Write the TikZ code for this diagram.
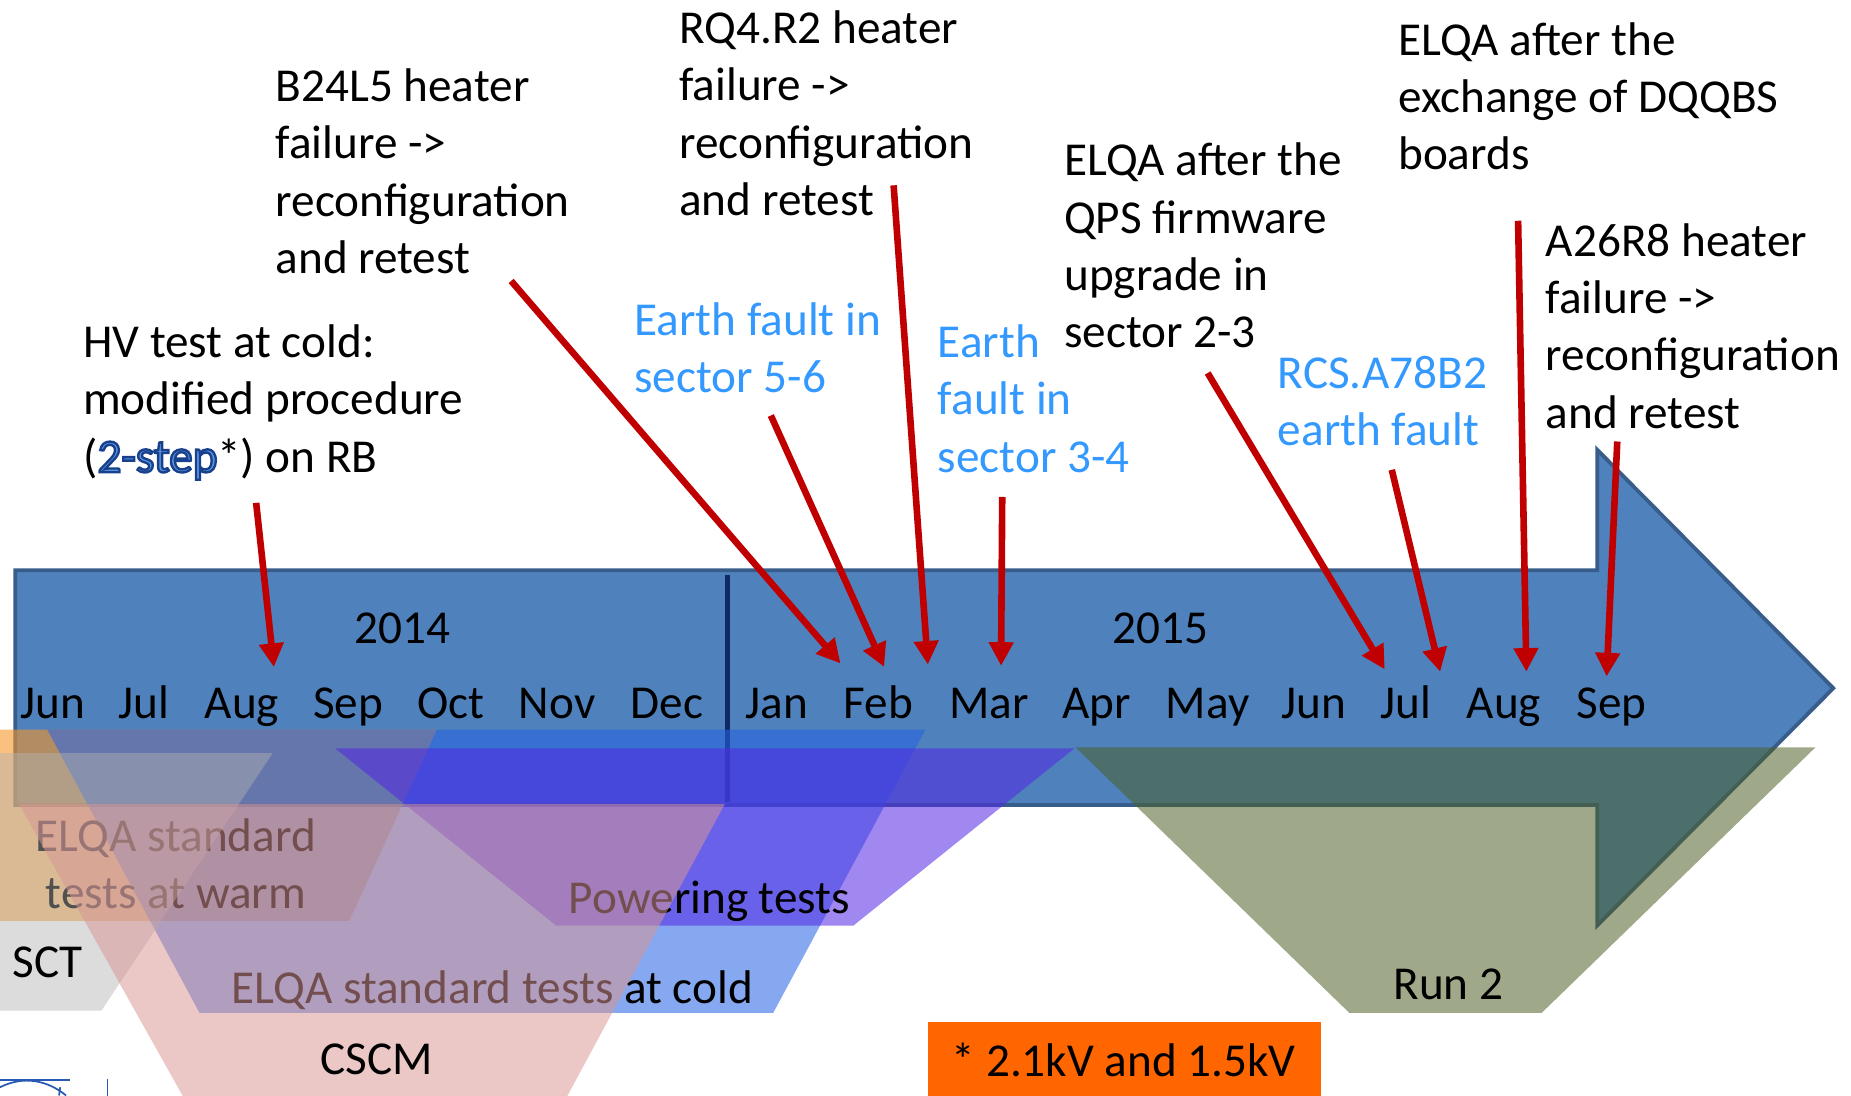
\documentclass[tikz,border=0pt]{standalone}
\usepackage{fontspec}
\setmainfont{Carlito}
\usetikzlibrary{arrows.meta}

\definecolor{arrblue}{RGB}{79,129,189}
\definecolor{arredge}{RGB}{56,93,138}
\definecolor{yearline}{RGB}{16,40,100}
\definecolor{warmorange}{RGB}{245,150,40}
\definecolor{coldblue}{RGB}{39,100,228}
\definecolor{powviolet}{RGB}{82,39,228}
\definecolor{sctgrey}{RGB}{178,178,178}
\definecolor{cscmpink}{RGB}{217,150,148}
\definecolor{runolive}{RGB}{77,96,38}
\definecolor{notebox}{RGB}{255,102,0}
\definecolor{faultred}{RGB}{192,0,0}
\definecolor{faultblue}{RGB}{51,153,255}
\definecolor{stepfill}{RGB}{90,150,222}
\definecolor{logoblue}{RGB}{40,90,180}

% outlined blue word, as in the slide
\newcommand{\outlined}[1]{\textcolor{stepfill}{\special{pdf:literal direct 0.1 0.25 0.55 RG 2 Tr 1.5 w}#1\special{pdf:literal direct 0 Tr}}}

\tikzset{every picture/.style={line width=0.75pt}}
\tikzset{
  big/.style={font=\fontsize{30}{36.4}\selectfont},
  txt/.style={big, inner sep=0pt, anchor=base west, align=left},
  ctxt/.style={big, inner sep=0pt, anchor=base, align=center},
  month/.style={big, inner sep=0pt, anchor=base},
  redarr/.style={draw=faultred, line width=4.2pt, -{Triangle[length=15pt,width=15pt]}},
}

\begin{document}
\begin{tikzpicture}[x=0.75pt,y=0.75pt,yscale=-1,xscale=1]
\useasboundingbox (0,0) rectangle (1568,928);
\clip (0,0) rectangle (1568,928);

%Shape: Timeline Arrow [id:tl1]
\draw [fill=arrblue, draw=arredge, line width=2.4pt, line join=miter] (13,483) -- (1353,483) -- (1353,381) -- (1553,583) -- (1353,784) -- (1353,682) -- (13,682) -- cycle ;
%Straight Lines [id:yr1]
\draw [yearline, line width=3pt] (616,487) -- (616,679) ;

% Text Node
\node [month] (y14) at (341,545) {2014};
% Text Node
\node [month] (y15) at (983,545) {2015};
% Text Node
\foreach \m/\x [count=\i] in {Jun/45,Jul/122,Aug/205,Sep/295,Oct/382,Nov/472,Dec/565,Jan/658,Feb/744,Mar/838,Apr/929,May/1023,Jun/1113,Jul/1191,Aug/1274,Sep/1365}
  \node [month] (m\i) at (\x,609) {\m};

%Shape: Trapezoid [id:warm]
\fill [warmorange, fill opacity=0.6] (0,618) -- (370,618) -- (296,780) -- (0,780) -- cycle ;
%Shape: Trapezoid [id:cold]
\fill [coldblue, fill opacity=0.56] (40,618) -- (784,618) -- (655,858) -- (169,858) -- cycle ;
%Shape: Trapezoid [id:pow]
\fill [powviolet, fill opacity=0.55] (284,634) -- (910,634) -- (723,784) -- (471,784) -- cycle ;

% Text Node
\node [ctxt] (warm) at (149,769.5) {ELQA standard\\tests at warm};
% Text Node
\node [month] (pow) at (601,774) {Powering tests};
% Text Node
\node [month] (cold) at (417,850) {ELQA standard tests at cold};

%Shape: Trapezoid [id:sct]
\fill [sctgrey, fill opacity=0.45] (0,638) -- (231,638) -- (86,856) -- (0,856) -- cycle ;
% Text Node
\node [txt] (sct) at (10,828) {SCT};

%Shape: Trapezoid [id:cscm]
\fill [cscmpink, fill opacity=0.53] (16,681) -- (614,681) -- (442,1000) -- (195,1000) -- cycle ;
% Text Node
\node [month] (cscm) at (319,910) {CSCM};

%Shape: Trapezoid [id:run]
\fill [runolive, fill opacity=0.54] (911,633) -- (1538,633) -- (1306,858) -- (1143,858) -- cycle ;
% Text Node
\node [month] (run) at (1227,847) {Run 2};

%Shape: Rectangle [id:note]
\fill [notebox] (786,866) rectangle (1119,940) ;
% Text Node
\node [month] (note) at (952,912) {* 2.1kV and 1.5kV};

%Logo remains
\draw [logoblue, line width=1.1pt] (0,915) -- (59,915) ;
\draw [logoblue, line width=1.1pt] (0,921) .. controls (20,911) and (40,915) .. (56,928) ;
\draw [logoblue, line width=1.1pt] (51,921) -- (50,928) ;
\draw [logoblue, line width=1.1pt] (91,914) -- (91,928) ;

% Text Node (anchored at the last line)
\node [txt] (hv) at (70,400) {HV test at cold:\\modified procedure\\(\outlined{2-step}*) on RB};
% Text Node
\node [txt] (b24) at (233,231.6) {B24L5 heater\\failure ->\\reconfiguration\\and retest};
% Text Node
\node [txt] (rq4) at (575,182.6) {RQ4.R2 heater\\failure ->\\reconfiguration\\and retest};
% Text Node
\node [txt, text=faultblue] (ef56) at (537,332.5) {Earth fault in\\sector 5-6};
% Text Node
\node [txt, text=faultblue] (ef34) at (794,400) {Earth\\fault in\\sector 3-4};
% Text Node
\node [txt] (qps) at (901,294.6) {ELQA after the\\QPS firmware\\upgrade in\\sector 2-3};
% Text Node
\node [txt, text=faultblue] (rcs) at (1082,377.5) {RCS.A78B2\\earth fault};
% Text Node
\node [txt] (dqq) at (1184,144) {ELQA after the\\exchange of DQQBS\\boards};
% Text Node
\node [txt] (a26) at (1309,362.6) {A26R8 heater\\failure ->\\reconfiguration\\and retest};

%Arrow ends
\coordinate (hvS) at (217,426) ; \coordinate (hvT) at (232,565) ;
\coordinate (b24S) at (433,238) ; \coordinate (b24T) at (712,562) ;
\coordinate (ef56S) at (653,352) ; \coordinate (ef56T) at (749,565) ;
\coordinate (rq4S) at (757,157) ; \coordinate (rq4T) at (786,563) ;
\coordinate (ef34S) at (849,421) ; \coordinate (ef34T) at (848,564) ;
\coordinate (qpsS) at (1023,316) ; \coordinate (qpsT) at (1173,567) ;
\coordinate (rcsS) at (1179,398) ; \coordinate (rcsT) at (1220,569) ;
\coordinate (dqqS) at (1286,187) ; \coordinate (dqqT) at (1293,569) ;
\coordinate (a26S) at (1370,374) ; \coordinate (a26T) at (1361,573) ;

%Straight Lines [id:red]
\foreach \a in {hv,b24,ef56,rq4,ef34,qps,rcs,dqq,a26}
  \draw [redarr] (\a S) -- (\a T) ;

\end{tikzpicture}
\end{document}
